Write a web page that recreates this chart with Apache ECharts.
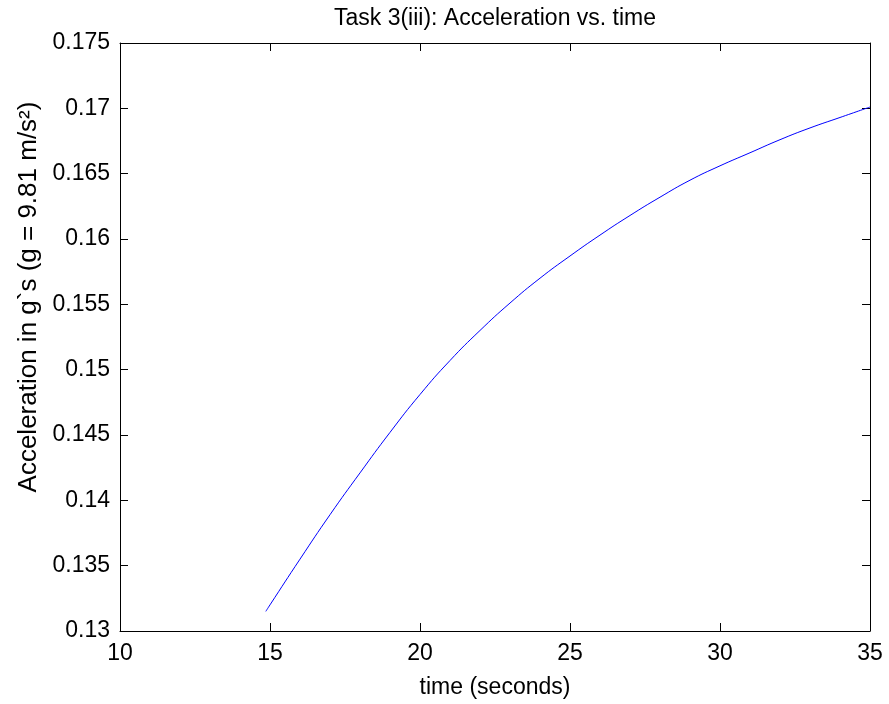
<!DOCTYPE html>
<html>
<head>
<meta charset="utf-8">
<script src="https://cdn.jsdelivr.net/npm/echarts@6/dist/echarts.min.js"></script>
<style>html,body{margin:0;padding:0;background:#fff}#c{width:889px;height:704px}</style>
</head>
<body>
<div id="c"></div>
<script>
// Data
var timeValues = [14.86, 15, 16, 17, 18, 19, 20, 21, 22, 23, 24, 25, 26, 27, 28, 29, 30, 31, 32, 33, 34, 35];
var accelValues = [0.1315, 0.1320, 0.1355, 0.1389, 0.1421, 0.1452, 0.1481, 0.1507, 0.1530, 0.1551, 0.1570, 0.1587, 0.1603, 0.1618, 0.1632, 0.1645, 0.1656, 0.1666, 0.1676, 0.1685, 0.1693, 0.1701];
var xTicks = [10, 15, 20, 25, 30, 35];
var yTicks = [0.13, 0.135, 0.14, 0.145, 0.15, 0.155, 0.16, 0.165, 0.17, 0.175];
var titleText = 'Task 3(iii): Acceleration vs. time';
var xLabel = 'time (seconds)';
var yLabel = 'Acceleration in g`s (g = 9.81 m/s\u00B2)';

var FONT = 'Liberation Sans, Arial, sans-serif';
var chart = echarts.init(document.getElementById('c'));
var pts = timeValues.map(function (t, i) { return [t, accelValues[i]]; });

function fmtY(v) { return String(+v.toFixed(3)); }
var axisCommonX = {
  type: 'value', min: xTicks[0], max: xTicks[xTicks.length - 1], interval: 5,
  axisLine: { show: true, lineStyle: { color: '#000', width: 1 } },
  axisTick: { show: true, inside: true, length: 8, lineStyle: { color: '#000' } },
  splitLine: { show: false }
};
var axisCommonY = {
  type: 'value', min: yTicks[0], max: yTicks[yTicks.length - 1], interval: 0.005,
  axisLine: { show: true, lineStyle: { color: '#000', width: 1 } },
  axisTick: { show: true, inside: true, length: 8, lineStyle: { color: '#000' } },
  splitLine: { show: false }
};

chart.setOption({
  animation: false,
  backgroundColor: '#fff',
  title: {
    text: titleText, left: 495, top: 7, textAlign: 'center', padding: 0,
    textStyle: { fontFamily: FONT, fontSize: 23, fontWeight: 'normal', color: '#000' }
  },
  grid: { left: 120, right: 19, top: 43, bottom: 70, containLabel: false },
  xAxis: [
    Object.assign({}, axisCommonX, {
      position: 'bottom',
      name: xLabel, nameLocation: 'middle', nameGap: 45,
      nameTextStyle: { fontFamily: FONT, fontSize: 23, color: '#000' },
      axisLabel: { show: true, margin: 11, fontFamily: FONT, fontSize: 23, color: '#000' }
    }),
    Object.assign({}, axisCommonX, { position: 'top', axisLabel: { show: false } })
  ],
  yAxis: [
    Object.assign({}, axisCommonY, {
      position: 'left',
      axisLabel: { show: true, margin: 10, fontFamily: FONT, fontSize: 23, color: '#000', formatter: fmtY }
    }),
    Object.assign({}, axisCommonY, { position: 'right', axisLabel: { show: false } })
  ],
  graphic: [{
    type: 'text', x: 29, y: 297, rotation: Math.PI / 2,
    style: { text: yLabel, fontFamily: FONT, fontSize: 26, fill: '#000', align: 'center', verticalAlign: 'middle' }
  }],
  series: [{
    type: 'line', data: pts, xAxisIndex: 0, yAxisIndex: 0,
    smooth: true, showSymbol: false, symbol: 'none',
    lineStyle: { color: '#0000ff', width: 1 }
  }]
});
</script>
</body>
</html>
